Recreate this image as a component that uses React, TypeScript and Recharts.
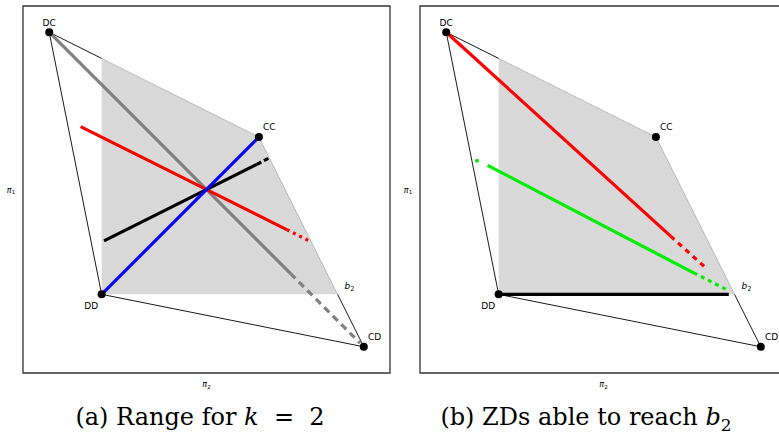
import React from "react";
import {
  ComposedChart,
  Area,
  Line,
  Scatter,
  XAxis,
  YAxis,
  Label,
  ReferenceArea,
} from "recharts";

// payoff corners (pi2 on x, pi1 on y)
const cornerNames = ["DC", "CC", "CD", "DD"];
const cornerPi2 = [0, 4, 6, 1];
const cornerPi1 = [6, 4, 0, 1];

// shaded region above the punishment payoff
const regionPi2 = [1, 4, 5.5];
const regionPi1 = [5.5, 4, 1];
const regionFloor = 1;

const b2Pi2 = [5.5];
const b2Pi1 = [1];

// panel (a): range for k = 2
const aGrayPi2 = [0, 4.6, 5.93];
const aGrayPi1 = [6, 1.4, 0.07];
const aBluePi2 = [1, 4];
const aBluePi1 = [1, 4];
const aRedPi2 = [0.6, 4.53, 4.99];
const aRedPi1 = [4.2, 2.235, 2.005];
const aBlackPi2 = [1.045, 3.96, 4.19];
const aBlackPi1 = [2.02, 3.48, 3.6];

// panel (b): ZDs able to reach b2
const bRedPi2 = [0, 4.28, 4.98];
const bRedPi1 = [6, 2.11, 1.48];
const bGreenPi2 = [0.79, 4.72, 5.33];
const bGreenPi1 = [3.46, 1.41, 1.1];
const bGreenDotPi2 = [0.586];
const bGreenDotPi1 = [3.55];
const bBlackPi2 = [1, 5.39];
const bBlackPi1 = [1, 1];

type Pt = { x: number; y: number; name?: string };

const zip = (xs: number[], ys: number[], names?: string[]): Pt[] =>
  xs.map((x, i) => ({ x, y: ys[i], name: names ? names[i] : undefined }));

const corners = zip(cornerPi2, cornerPi1, cornerNames);
const region = zip(regionPi2, regionPi1);
const b2 = zip(b2Pi2, b2Pi1);

// black edges of the feasible set that the shaded region doesn't cover
const [DC, , CD, DD] = corners;
const outlineLeft = [region[0], DC, DD, CD, b2[0]];

const labelOffset: Record<string, { dx: number; dy: number }> = {
  DC: { dx: 0, dy: -6.5 },
  CC: { dx: 10.3, dy: -7 },
  CD: { dx: 10.7, dy: -6.4 },
  DD: { dx: -10.5, dy: 14.6 },
};

const SANS = "DejaVu Sans";

type Series = {
  pi2: number[];
  pi1: number[];
  color: string;
  solidEnd: number; // index where the dotted tail starts
  dash?: string;
};

const panelA: Series[] = [
  { pi2: aGrayPi2, pi1: aGrayPi1, color: "#808080", solidEnd: 1, dash: "7 5" },
  { pi2: aRedPi2, pi1: aRedPi1, color: "#ff0000", solidEnd: 1, dash: "3 4" },
  { pi2: aBlackPi2, pi1: aBlackPi1, color: "#000000", solidEnd: 1, dash: "5 3" },
  { pi2: aBluePi2, pi1: aBluePi1, color: "#0000ff", solidEnd: 1 },
];

const panelB: Series[] = [
  { pi2: bBlackPi2, pi1: bBlackPi1, color: "#000000", solidEnd: 1 },
  { pi2: bRedPi2, pi1: bRedPi1, color: "#ff0000", solidEnd: 1, dash: "5 5" },
  { pi2: bGreenPi2, pi1: bGreenPi1, color: "#00ee00", solidEnd: 1, dash: "4 4" },
];

const renderCorner = (props: any) => {
  const { cx, cy, payload } = props;
  const off = labelOffset[payload.name] || { dx: 0, dy: 0 };
  return (
    <g>
      <circle cx={cx} cy={cy} r={4} fill="#000" />
      <text
        x={cx + off.dx}
        y={cy + off.dy}
        textAnchor="middle"
        fontFamily={SANS}
        fontSize={9}
        fill="#000"
      >
        {payload.name}
      </text>
    </g>
  );
};

const renderB2 = (props: any) => {
  const { cx, cy } = props;
  return (
    <text x={cx + 7} y={cy - 5.5} fontFamily={SANS} fontSize={9} fill="#000">
      <tspan fontStyle="italic">b</tspan>
      <tspan fontSize={6.5} dy={2}>
        2
      </tspan>
    </text>
  );
};

const renderGreenDot = (props: any) => (
  <circle cx={props.cx} cy={props.cy} r={2} fill="#00ee00" />
);

const piLabel = (sub: string, axis: "x" | "y") => (props: any) => {
  const vb = props.viewBox || {};
  const x = axis === "x" ? vb.x + vb.width / 2 : 11;
  const y = axis === "x" ? vb.y + 14 : vb.y + vb.height / 2 + 3;
  return (
    <text x={x} y={y} textAnchor="middle" fontFamily={SANS} fontSize={8} fill="#000">
      <tspan fontStyle="italic">π</tspan>
      <tspan fontSize={5.5} dy={1.5}>
        {sub}
      </tspan>
    </text>
  );
};

function Panel({
  series,
  left,
  greenDot,
}: {
  series: Series[];
  left: number;
  greenDot?: boolean;
}) {
  return (
    <div style={{ position: "absolute", left, top: 0 }}>
      <ComposedChart width={400} height={395} margin={{ top: 6, right: 10, bottom: 0, left: 0 }}>
        <XAxis
          type="number"
          dataKey="x"
          domain={[-0.5, 6.5]}
          allowDataOverflow
          tick={false}
          tickLine={false}
          axisLine={false}
          height={22}
        >
          <Label content={piLabel("2", "x")} />
        </XAxis>
        <YAxis
          type="number"
          dataKey="y"
          domain={[-0.5, 6.5]}
          allowDataOverflow
          tick={false}
          tickLine={false}
          axisLine={false}
          width={23}
        >
          <Label content={piLabel("1", "y")} />
        </YAxis>
        <ReferenceArea
          x1={-0.5}
          x2={6.5}
          y1={-0.5}
          y2={6.5}
          fill="none"
          stroke="#333"
          strokeWidth={1.3}
          ifOverflow="visible"
        />
        <Area
          data={region}
          dataKey="y"
          baseValue={regionFloor}
          fill="#d9d9d9"
          fillOpacity={1}
          stroke="#b0b0b0"
          strokeWidth={0.8}
          isAnimationActive={false}
        />
        <Line
          data={outlineLeft}
          dataKey="y"
          stroke="#000"
          strokeWidth={0.9}
          dot={false}
          isAnimationActive={false}
        />
        {series.map((s, i) => {
          const pts = zip(s.pi2, s.pi1);
          const solid = pts.slice(0, s.solidEnd + 1);
          const tail = pts.slice(s.solidEnd);
          return (
            <React.Fragment key={i}>
              <Line
                data={solid}
                dataKey="y"
                stroke={s.color}
                strokeWidth={3.2}
                dot={false}
                isAnimationActive={false}
              />
              {tail.length > 1 && (
                <Line
                  data={tail}
                  dataKey="y"
                  stroke={s.color}
                  strokeWidth={3.2}
                  strokeDasharray={s.dash}
                  dot={false}
                  isAnimationActive={false}
                />
              )}
            </React.Fragment>
          );
        })}
        {greenDot && (
          <Scatter
            data={zip(bGreenDotPi2, bGreenDotPi1)}
            dataKey="y"
            shape={renderGreenDot}
            isAnimationActive={false}
          />
        )}
        <Scatter data={corners} dataKey="y" shape={renderCorner} isAnimationActive={false} />
        <Scatter data={b2} dataKey="y" shape={renderB2} isAnimationActive={false} />
      </ComposedChart>
    </div>
  );
}

const captionStyle: React.CSSProperties = {
  position: "absolute",
  top: 402,
  width: 400,
  textAlign: "center",
  fontFamily: "DejaVu Serif",
  fontSize: 24,
  lineHeight: "30px",
  color: "#000",
  whiteSpace: "nowrap",
};

export default function App() {
  return (
    <div
      style={{
        position: "fixed",
        left: 0,
        top: 0,
        width: 779,
        height: 441,
        overflow: "hidden",
        background: "#fff",
      }}
    >
      <Panel series={panelA} left={0} />
      <Panel series={panelB} left={397} greenDot />
      <div style={{ ...captionStyle, left: 0 }}>
        (a) Range for <i>k</i> &nbsp;=&nbsp; 2
      </div>
      <div style={{ ...captionStyle, left: 386 }}>
        (b) ZDs able to reach <i>b</i>
        <sub style={{ fontSize: 17 }}>2</sub>
      </div>
    </div>
  );
}
